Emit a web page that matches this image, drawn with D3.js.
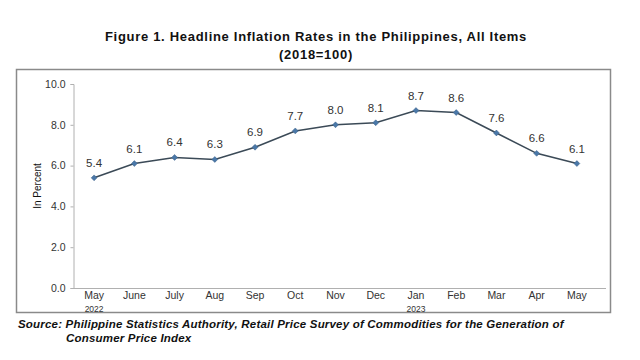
<!DOCTYPE html>
<html><head><meta charset="utf-8">
<script src="https://cdn.jsdelivr.net/npm/d3@7"></script>
<style>body{margin:0;background:#fff}svg{display:block}</style>
</head><body>
<svg id="c" width="640" height="360"></svg>
<script>
const months = ["May","June","July","Aug","Sep","Oct","Nov","Dec","Jan","Feb","Mar","Apr","May"];
const years = ["2022","","","","","","","","2023","","","",""];
const inflation = [5.4,6.1,6.4,6.3,6.9,7.7,8.0,8.1,8.7,8.6,7.6,6.6,6.1];
const yTicks = [0,2,4,6,8,10];

const svg = d3.select("#c");
const font = "Liberation Sans, Arial, sans-serif";

// title
svg.append("text").attr("x",316).attr("y",41).attr("text-anchor","middle")
  .attr("font-family",font).attr("font-weight","bold").attr("font-size",13).attr("letter-spacing",0.7).attr("fill","#111")
  .text("Figure 1. Headline Inflation Rates in the Philippines, All Items");
svg.append("text").attr("x",316).attr("y",59).attr("text-anchor","middle")
  .attr("font-family",font).attr("font-weight","bold").attr("font-size",13).attr("letter-spacing",0.7).attr("fill","#111")
  .text("(2018=100)");

// frame
svg.append("rect").attr("x",16.5).attr("y",69.5).attr("width",594).attr("height",243)
  .attr("fill","none").attr("stroke","#8a8a8a").attr("stroke-width",1.5);

const x = d3.scaleBand().domain(d3.range(months.length)).range([74,597]);
const y = d3.scaleLinear().domain([0,10]).range([288,84]);

// y axis
const ya = svg.append("g").attr("transform","translate(73.5,0)")
  .call(d3.axisLeft(y).tickValues(yTicks).tickFormat(d3.format(".1f")).tickSize(3).tickPadding(5));
ya.select(".domain").attr("stroke","#b0b0b0");
ya.selectAll(".tick line").attr("stroke","#b0b0b0");
ya.selectAll("text").attr("font-family",font).attr("font-size",10.5).attr("fill","#333");

// x axis line
svg.append("line").attr("x1",73.5).attr("x2",606).attr("y1",288.5).attr("y2",288.5)
  .attr("stroke","#b0b0b0");
const xa = svg.append("g").attr("transform","translate(0,288.5)")
  .call(d3.axisBottom(x).tickFormat(i=>months[i]).tickSize(0).tickPadding(3));
xa.select(".domain").remove();
xa.selectAll("text").attr("font-family",font).attr("font-size",10.5).attr("fill","#333");
svg.append("g").selectAll("text").data(years.map((t,i)=>({t,i})).filter(d=>d.t))
  .join("text").attr("x",d=>x(d.i)+x.bandwidth()/2).attr("y",312).attr("text-anchor","middle")
  .attr("font-family",font).attr("font-size",8.5).attr("fill","#333").text(d=>d.t);

// y label
svg.append("text").attr("transform","translate(41,186) rotate(-90)").attr("text-anchor","middle")
  .attr("font-family",font).attr("font-size",10).attr("fill","#111").text("In Percent");

// line
const cx = i => x(i)+x.bandwidth()/2;
svg.append("path").datum(inflation)
  .attr("d",d3.line().x((d,i)=>cx(i)).y(d=>y(d)))
  .attr("fill","none").attr("stroke","#3b4a57").attr("stroke-width",1.6);
svg.append("g").selectAll("path").data(inflation).join("path")
  .attr("transform",(d,i)=>`translate(${cx(i)},${y(d)})`)
  .attr("d",d3.symbol(d3.symbolDiamond2,22))
  .attr("fill","#4a78a8").attr("stroke","#3b5f86").attr("stroke-width",0.5);
svg.append("g").selectAll("text").data(inflation).join("text")
  .attr("x",(d,i)=>cx(i)).attr("y",d=>y(d)-11).attr("text-anchor","middle")
  .attr("font-family",font).attr("font-size",11.5).attr("fill","#333")
  .text(d=>d3.format(".1f")(d));

// source
svg.append("text").attr("x",18).attr("y",328)
  .attr("font-family",font).attr("font-weight","bold").attr("font-style","italic").attr("font-size",11.5).attr("letter-spacing",0.2).attr("fill","#111")
  .text("Source: Philippine Statistics Authority, Retail Price Survey of Commodities for the Generation of");
svg.append("text").attr("x",66).attr("y",342)
  .attr("font-family",font).attr("font-weight","bold").attr("font-style","italic").attr("font-size",11.5).attr("letter-spacing",0.2).attr("fill","#111")
  .text("Consumer Price Index");
</script>
</body></html>
